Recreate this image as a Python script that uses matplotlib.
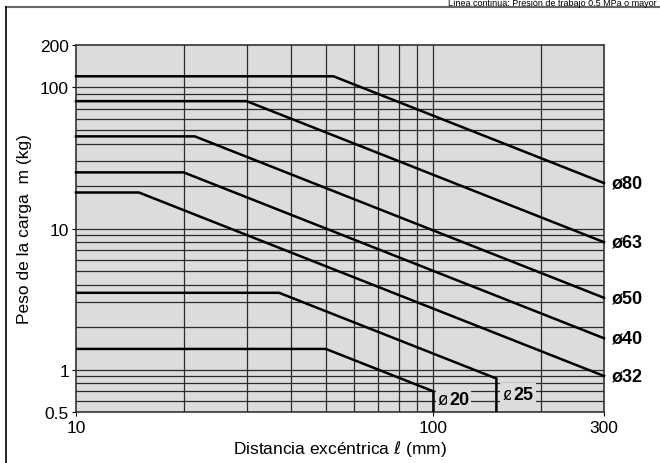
import numpy as np
import matplotlib
matplotlib.use("Agg")
import matplotlib.pyplot as plt
from matplotlib.lines import Line2D

plt.rcParams['font.family'] = ['Liberation Sans', 'DejaVu Sans']
plt.rcParams['mathtext.fontset'] = 'dejavusans'

# Bore sizes and their allowable load curves: flat at max_load up to knee, then m ∝ 1/ℓ
bores = ["ø80", "ø63", "ø50", "ø40", "ø32", "ø25", "ø20"]
max_load = [120, 80, 45, 25, 18, 3.5, 1.4]          # kg
knee = [52.5, 30, 21.5, 20, 15, 37, 50]             # mm
end_dist = [300, 300, 300, 300, 300, 150, 100]      # mm

x_ticks = [10, 100, 300]
y_ticks = [0.5, 1, 10, 100, 200]
y_tick_labels = ["0.5", "1", "10", "100", "200"]
x_grid = [20, 30, 40, 50, 60, 70, 80, 90, 100, 200]
y_grid = [0.6, 0.7, 0.8, 0.9, 1, 2, 3, 4, 5, 6, 7, 8, 9,
          10, 20, 30, 40, 50, 60, 70, 80, 90, 100]

W, H = 660, 464
fig = plt.figure(figsize=(W / 100, H / 100), dpi=100)
ax = fig.add_axes([76 / W, 1 - 413 / H, (604 - 76) / W, (413 - 46) / H])
ax.set_xscale("log")
ax.set_yscale("log")
ax.set_xlim(10, 300)
ax.set_ylim(0.5, 200)
ax.set_facecolor("#dcdcdc")

for gx in x_grid:
    ax.axvline(gx, color="#2b2b2b", lw=0.9, zorder=1)
for gy in y_grid:
    ax.axhline(gy, color="#2b2b2b", lw=0.9, zorder=1)

ymin = 0.5
for name, m0, k, xe in zip(bores, max_load, knee, end_dist):
    xs = [10, k]
    ys = [m0, m0]
    xs.append(xe)
    ys.append(m0 * k / xe)
    if xe < 300:
        xs.append(xe)
        ys.append(ymin)
    ax.plot(xs, ys, color="black", lw=1.8, solid_joinstyle="miter", zorder=3,
            clip_on=False if xe == 300 else True)

# Bore labels at the right-hand end of each curve
for name, m0, k, xe in zip(bores[:5], max_load[:5], knee[:5], end_dist[:5]):
    ax.annotate(name, xy=(xe, m0 * k / xe), xytext=(6, 0), textcoords="offset points",
                va="center", ha="left", fontsize=13, fontweight="bold",
                annotation_clip=False)

def bore_label(x, y, text):
    t = ax.text(x, y, "ø", fontsize=13, ha="left", va="center", zorder=4,
                bbox=dict(facecolor="#dcdcdc", edgecolor="none", pad=1.5))
    ax.annotate(text, xy=(1, 0.5), xycoords=t, ha="left", va="center",
                fontsize=13, fontweight="bold", zorder=5,
                bbox=dict(facecolor="#dcdcdc", edgecolor="none", pad=1.5))

bore_label(103, 0.61, "20")
bore_label(156, 0.67, "25")

for s in ax.spines.values():
    s.set_color("#333333")
    s.set_linewidth(1.2)

ax.set_xticks(x_ticks)
ax.set_xticklabels([str(v) for v in x_ticks])
ax.set_yticks(y_ticks)
ax.set_yticklabels(y_tick_labels)
ax.minorticks_off()
ax.tick_params(labelsize=12.5, length=3, width=0.8, pad=2)
ax.tick_params(axis="x", pad=3)

ax.set_xlabel(r"Distancia excéntrica $\ell$ (mm)", fontsize=12.5, labelpad=2)
ax.set_ylabel("Peso de la carga  m (kg)", fontsize=12.5, labelpad=6)

# Outer frame (top and left edges)
fig.add_artist(Line2D([6 / W, 1], [1 - 8 / H, 1 - 8 / H], transform=fig.transFigure,
                      color="#666666", lw=1.5))
fig.add_artist(Line2D([6 / W, 6 / W], [0, 1 - 8 / H], transform=fig.transFigure,
                      color="black", lw=1.2))

fig.text(657 / W, 1 - 6 / H, "Línea continua: Presión de trabajo 0.5 MPa o mayor",
         fontsize=6.5, ha="right", va="baseline")

fig.savefig("out.png", dpi=100)
